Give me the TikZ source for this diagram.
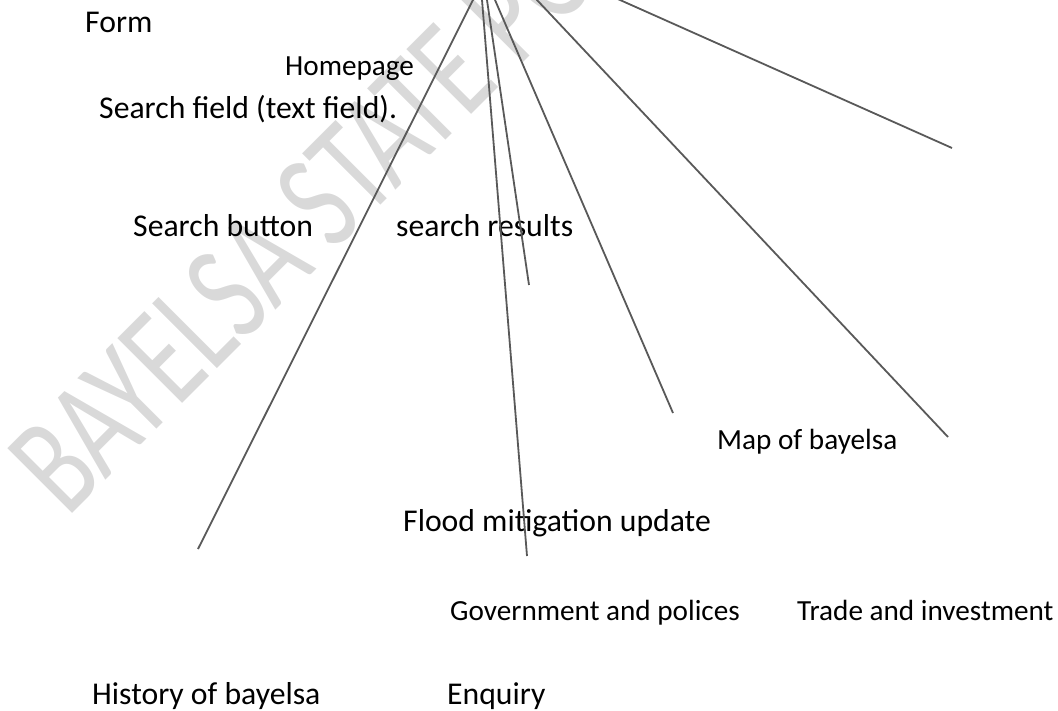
\documentclass[tikz,border=0pt]{standalone}
\usepackage{fontspec}
\setmainfont{Carlito}
\definecolor{wmgray}{RGB}{217,217,217}
\definecolor{linegray}{RGB}{89,89,89}
\begin{document}
\begin{tikzpicture}[x=1pt,y=-1pt,
  lbl/.style={anchor=base west, inner sep=0pt, text=black, font=\fontsize{31.7}{38}\selectfont},
  lbls/.style={anchor=base west, inner sep=0pt, text=black, font=\fontsize{29.2}{35}\selectfont},
  conn/.style={draw=linegray, line width=1.8pt},
  wmark/.style={anchor=base west, inner sep=0pt, text=wmgray, font=\fontsize{102}{110}\selectfont}]
\useasboundingbox (0,0) rectangle (1058,711);
\clip (0,0) rectangle (1058,711);
% watermark
\begin{scope}[shift={(67,519)}]
  \node[wmark, rotate=45, yscale=1.4] (wm) at (0,0) {BAYELSA STATE PO};
\end{scope}
% labels
\node[lbl]  (form)    at (85,33)   {Form};
\node[lbls] (home)    at (285,76)  {Homepage};
\node[lbl]  (sfield)  at (99,119)  {Search field (text field).};
\node[lbl]  (sbutton) at (133,237) {Search button};
\node[lbl]  (sresult) at (396,237) {search results};
\node[lbls] (map)     at (717,449) {Map of bayelsa};
\node[lbl]  (flood)   at (403,531) {Flood mitigation update};
\node[lbls] (gov)     at (450,620) {Government and polices};
\node[lbls] (trade)   at (797,620) {Trade and investment};
\node[lbl]  (hist)    at (92,704)  {History of bayelsa};
\node[lbl]  (enq)     at (447,704) {Enquiry};
% connector ends
\coordinate (t1) at (478,-10);
\coordinate (t2) at (481.2,-10);
\coordinate (t3) at (485.5,-10);
\coordinate (t4) at (490.7,-10);
\coordinate (t5) at (527.6,-10);
\coordinate (t6) at (597.6,-10);
\coordinate (e1) at (198,549);
\coordinate (e2) at (527,556);
\coordinate (e3) at (529,285);
\coordinate (e4) at (673,413);
\coordinate (e5) at (948,437);
\coordinate (e6) at (952,148);
\draw[conn] (t1) -- (e1);
\draw[conn] (t2) -- (e2);
\draw[conn] (t3) -- (e3);
\draw[conn] (t4) -- (e4);
\draw[conn] (t5) -- (e5);
\draw[conn] (t6) -- (e6);
\end{tikzpicture}
\end{document}
